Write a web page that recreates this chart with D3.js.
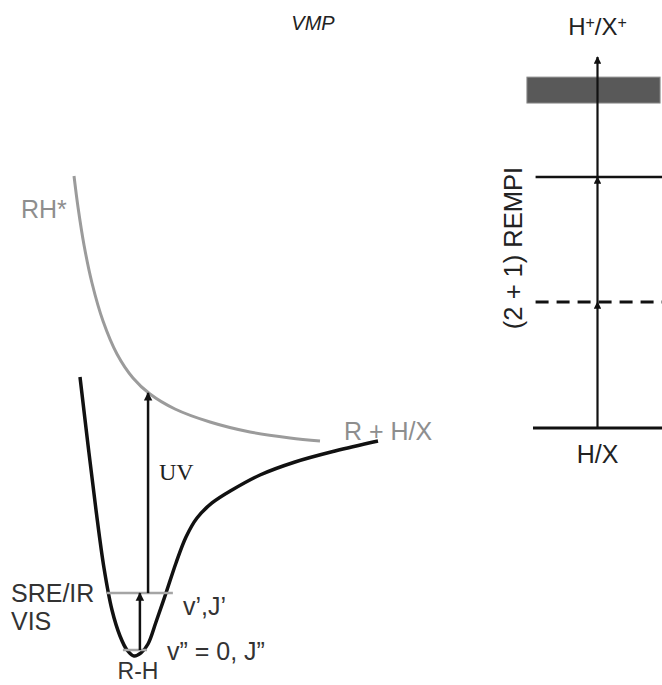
<!DOCTYPE html>
<html>
<head>
<meta charset="utf-8">
<script src="https://cdn.jsdelivr.net/npm/d3@7"></script>
<style>
  body { margin: 0; background: #fff; }
  svg { display: block; }
</style>
</head>
<body>
<div id="chart"></div>
<script>
/* VMP energy diagram: potential curves (left) and REMPI ladder (right) */

// ground state R-H (r, energy)
const groundR = [0.588, 0.824, 1.059, 1.294, 1.529, 1.765, 1.971, 2.176, 2.382, 2.588, 2.824, 3.118, 3.412, 3.706, 4.029, 4.471, 5.059, 5.882, 6.912, 8.088, 9.353];
const groundE = [5.813, 4.396, 3.042, 1.833, 0.958, 0.417, 0.125, 0.000, 0.063, 0.250, 0.708, 1.313, 1.938, 2.479, 2.875, 3.188, 3.458, 3.771, 4.042, 4.271, 4.479];

// repulsive excited state RH*
const excitedR = [0.412, 0.529, 0.706, 0.941, 1.265, 1.676, 2.147, 2.647, 3.382, 4.412, 5.588, 6.765, 7.647];
const excitedE = [10.0, 9.354, 8.563, 7.771, 6.979, 6.292, 5.792, 5.458, 5.146, 4.875, 4.667, 4.542, 4.479];

// vibrational levels [name, energy, rStart, rEnd]
const vibLevels = [
  ['v0', 0.125, 1.85, 2.56],
  ['v1', 1.31, 1.38, 3.32]
];

// transitions [r, fromE, toE]
const transitions = [
  [2.35, 0.125, 1.31],
  [2.59, 1.31, 5.48]
];

// REMPI ladder energies
const rempiGround = 4.75;
const rempiVirtual = 7.375;
const rempiResonant = 9.98;
const ionBand = [11.52, 12.06];
const ionTop = 12.48;

const width = 662, height = 685;
const SANS = '"Liberation Sans", Arial, sans-serif';
const SERIF = '"Liberation Serif", "Times New Roman", serif';

const x = d3.scaleLinear().domain([0, 10]).range([60, 400]);
const y = d3.scaleLinear().domain([0, 10]).range([656, 176]);
const px = d3.scaleLinear().domain([0, 1]).range([533, 662]);

const svg = d3.select('#chart').append('svg')
  .attr('width', width)
  .attr('height', height);

const defs = svg.append('defs');
defs.append('marker')
  .attr('id', 'head')
  .attr('viewBox', '0 0 10 10')
  .attr('refX', 9).attr('refY', 5)
  .attr('markerWidth', 3.4).attr('markerHeight', 3.6)
  .attr('markerUnits', 'strokeWidth')
  .attr('orient', 'auto')
  .append('path')
  .attr('d', 'M0,0 L10,5 L0,10 z')
  .attr('fill', '#111');

const line = d3.line()
  .x(d => x(d[0]))
  .y(d => y(d[1]))
  .curve(d3.curveCatmullRom.alpha(0.5));

// curves
svg.append('path')
  .datum(excitedR.map((r, i) => [r, excitedE[i]]))
  .attr('d', line)
  .attr('fill', 'none')
  .attr('stroke', '#9b9b9b')
  .attr('stroke-width', 3);

svg.append('path')
  .datum(groundR.map((r, i) => [r, groundE[i]]))
  .attr('d', line)
  .attr('fill', 'none')
  .attr('stroke', '#111')
  .attr('stroke-width', 3.5);

// levels
svg.selectAll('.vib')
  .data(vibLevels)
  .enter().append('line')
  .attr('class', 'vib')
  .attr('x1', d => x(d[2]))
  .attr('x2', d => x(d[3]))
  .attr('y1', d => y(d[1]))
  .attr('y2', d => y(d[1]))
  .attr('stroke', '#a5a5a5')
  .attr('stroke-width', 2.5);

// arrows
svg.selectAll('.trans')
  .data(transitions)
  .enter().append('line')
  .attr('class', 'trans')
  .attr('x1', d => x(d[0]))
  .attr('x2', d => x(d[0]))
  .attr('y1', d => y(d[1]))
  .attr('y2', d => y(d[2]))
  .attr('stroke', '#111')
  .attr('stroke-width', 2.5)
  .attr('marker-end', 'url(#head)');

// labels
const lab = (t, lx, ly, opts = {}) => svg.append('text')
  .attr('x', lx).attr('y', ly)
  .style('font-family', opts.family || SANS)
  .style('font-size', (opts.size || 25) + 'px')
  .style('font-style', opts.style || 'normal')
  .attr('fill', opts.fill || '#333')
  .attr('text-anchor', opts.anchor || 'start')
  .text(t);

lab('RH*', 21, 218, { fill: '#8e8e8e' });
lab('R + H/X', 344, 440, { fill: '#8e8e8e' });
lab('UV', 159, 480, { family: SERIF, size: 24, fill: '#222' });
lab('SRE/IR', 11, 602);
lab('VIS', 11, 630);
lab('v\u2019,J\u2019', 183, 615);
lab('v\u201D = 0, J\u201D', 167, 660);
lab('R-H', 138, 679, { anchor: 'middle', size: 23 });
lab('VMP', 313, 30, { style: 'italic', size: 20, fill: '#222', anchor: 'middle' });

// REMPI ladder
svg.append('rect')
  .attr('x', px(-0.047))
  .attr('y', y(ionBand[1]))
  .attr('width', px(0.985) - px(-0.047))
  .attr('height', y(ionBand[0]) - y(ionBand[1]))
  .attr('fill', '#595959')
  .attr('stroke', '#8a8a8a')
  .attr('stroke-width', 1);

svg.append('line')
  .attr('x1', px(0)).attr('x2', px(1))
  .attr('y1', y(rempiGround)).attr('y2', y(rempiGround))
  .attr('stroke', '#111').attr('stroke-width', 3);

svg.append('line')
  .attr('x1', px(0.02)).attr('x2', px(1))
  .attr('y1', y(rempiVirtual)).attr('y2', y(rempiVirtual))
  .attr('stroke', '#111').attr('stroke-width', 3)
  .attr('stroke-dasharray', '13,8');

svg.append('line')
  .attr('x1', px(0.02)).attr('x2', px(1))
  .attr('y1', y(rempiResonant)).attr('y2', y(rempiResonant))
  .attr('stroke', '#111').attr('stroke-width', 2.5);

const steps = [[rempiGround, rempiVirtual], [rempiVirtual, rempiResonant], [rempiResonant, ionTop]];
svg.selectAll('.step')
  .data(steps)
  .enter().append('line')
  .attr('class', 'step')
  .attr('x1', px(0.5)).attr('x2', px(0.5))
  .attr('y1', d => y(d[0]))
  .attr('y2', d => y(d[1]))
  .attr('stroke', '#111')
  .attr('stroke-width', 2.2)
  .attr('marker-end', 'url(#head)');

lab('H/X', px(0.5), 463, { anchor: 'middle', fill: '#222' });
svg.append('text')
  .attr('x', px(0.5)).attr('y', 35)
  .style('font-family', SANS)
  .style('font-size', '24px')
  .attr('fill', '#222')
  .attr('text-anchor', 'middle')
  .call(t => {
    t.append('tspan').text('H');
    t.append('tspan').style('font-size', '16px').attr('dy', -7).text('+');
    t.append('tspan').attr('dy', 7).text('/X');
    t.append('tspan').style('font-size', '16px').attr('dy', -7).text('+');
  });

svg.append('text')
  .attr('transform', 'translate(522,248) rotate(-90)')
  .style('font-family', SANS)
  .style('font-size', '25.5px')
  .attr('fill', '#222')
  .attr('text-anchor', 'middle')
  .text('(2 + 1) REMPI');
</script>
</body>
</html>
